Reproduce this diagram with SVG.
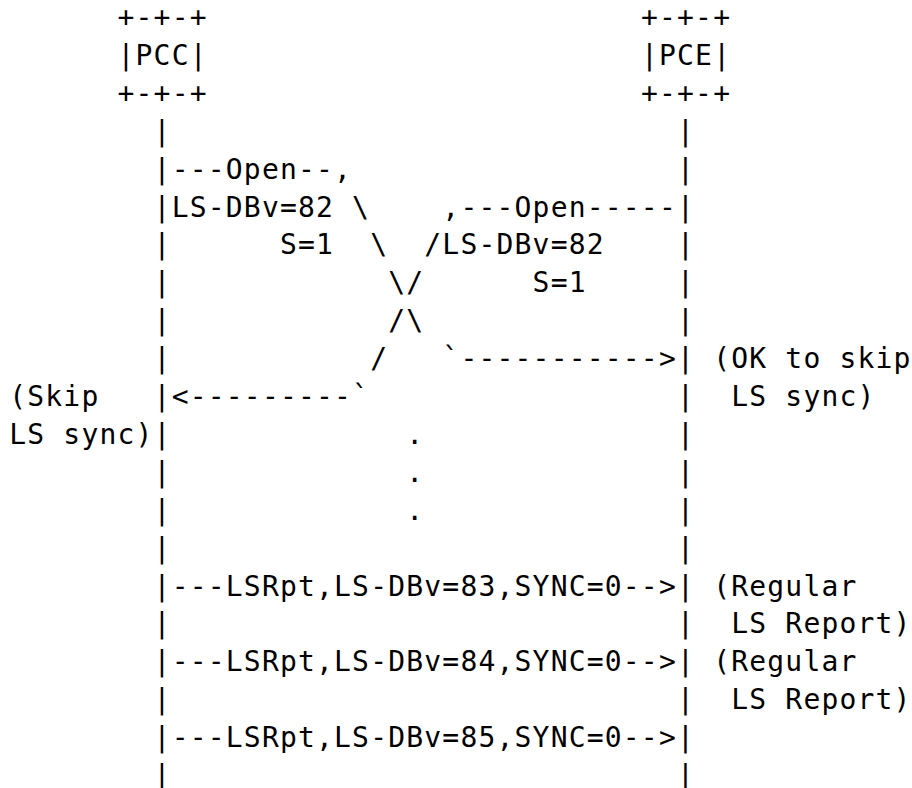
<svg xmlns="http://www.w3.org/2000/svg" width="912" height="788" viewBox="0 0 912 788" xml:space="preserve">
<style>
.t{font-family:"DejaVu Sans Mono","Liberation Mono",monospace;font-size:28px;letter-spacing:1.19px;white-space:pre;fill:#000}
</style>
<rect x="0" y="0" width="912" height="788" fill="#fff"/>
<g id="pcc">
<text class="t" x="117.5" y="27">+-+-+</text>
<text class="t" x="117.5" y="64.9">|PCC|</text>
<text class="t" x="117.5" y="102.8">+-+-+</text>
</g>
<g id="pce">
<text class="t" x="640.95" y="27">+-+-+</text>
<text class="t" x="640.95" y="64.9">|PCE|</text>
<text class="t" x="640.95" y="102.8">+-+-+</text>
</g>
<g id="connectors">
<text class="t" x="153.6" y="140.7">|                            |</text>
<text class="t" x="153.6" y="178.6">|---Open--,                  |</text>
<text class="t" x="153.6" y="216.5">|LS-DBv=82 \    ,---Open-----|</text>
<text class="t" x="153.6" y="254.4">|      S=1  \  /LS-DBv=82    |</text>
<text class="t" x="153.6" y="292.3">|            \/      S=1     |</text>
<text class="t" x="153.6" y="330.2">|            /\              |</text>
<text class="t" x="153.6" y="368.1">|           /   `-----------&gt;|</text>
<text class="t" x="153.6" y="406">|&lt;---------`                 |</text>
<text class="t" x="153.6" y="443.9">|             .              |</text>
<text class="t" x="153.6" y="481.8">|             .              |</text>
<text class="t" x="153.6" y="519.7">|             .              |</text>
<text class="t" x="153.6" y="557.6">|                            |</text>
<text class="t" x="153.6" y="595.5">|---LSRpt,LS-DBv=83,SYNC=0--&gt;|</text>
<text class="t" x="153.6" y="633.4">|                            |</text>
<text class="t" x="153.6" y="671.3">|---LSRpt,LS-DBv=84,SYNC=0--&gt;|</text>
<text class="t" x="153.6" y="709.2">|                            |</text>
<text class="t" x="153.6" y="747.1">|---LSRpt,LS-DBv=85,SYNC=0--&gt;|</text>
<text class="t" x="153.6" y="785">|                            |</text>
</g>
<g id="notes-pcc">
<text class="t" x="9.2" y="406">(Skip</text>
<text class="t" x="9.2" y="443.9">LS sync)</text>
</g>
<g id="notes-pce">
<text class="t" x="713.15" y="368.1">(OK to skip</text>
<text class="t" x="731.2" y="406">LS sync)</text>
<text class="t" x="713.15" y="595.5">(Regular</text>
<text class="t" x="731.2" y="633.4">LS Report)</text>
<text class="t" x="713.15" y="671.3">(Regular</text>
<text class="t" x="731.2" y="709.2">LS Report)</text>
</g>
</svg>
